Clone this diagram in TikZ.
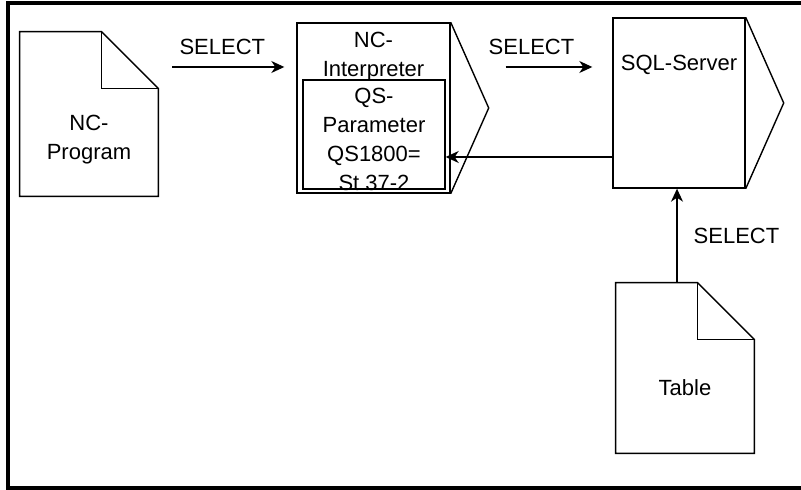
\documentclass[tikz,border=0pt]{standalone}
\usepackage{fontspec}
\setmainfont{Liberation Sans}
\usetikzlibrary{arrows.meta}

% outline of a document with a folded corner
\newcommand{\dogear}[1]{%
  \draw[docline] (#1.north west) -- ([xshift=-28.5pt]#1.north east)
    -- ([yshift=-28.5pt]#1.north east) -- (#1.south east)
    -- (#1.south west) -- cycle;
  \draw[docline] ([xshift=-28.5pt]#1.north east) |- ([yshift=-28.5pt]#1.north east);
}
% pointed right side of a process box
\newcommand{\boxtip}[1]{%
  \draw[docline] (#1.north east) -- ([xshift=19pt]#1.east) -- (#1.south east);
}

\begin{document}
\begin{tikzpicture}[
  x=0.5pt, y=-0.5pt,
  font=\fontsize{11}{14.6}\selectfont,
  docline/.style={draw,line width=0.7pt},
  docnode/.style={rectangle,draw=none,minimum width=69pt,minimum height=82pt,inner sep=0pt},
  procnode/.style={rectangle,docline,minimum height=85pt,inner sep=0pt},
  boxtext/.style={align=center,inner sep=0pt},
  edgelabel/.style={inner sep=2pt},
  flow/.style={line width=0.7pt,-{Stealth[length=6.5pt,width=6pt,inset=2pt]}}
]

\useasboundingbox (0,0) rectangle (801,490);

% Frame
\draw[line width=2pt] (812,3.5) -- (7.5,3.5) -- (7.5,488) -- (812,488);

% Documents
\node[docnode,label={[boxtext,yshift=-13pt]center:NC-\\Program}] (prog) at (89,114) {};
\dogear{prog}
\node[docnode,minimum height=85pt,label={[boxtext,yshift=-10pt]center:Table}] (table) at (685,368) {};
\dogear{table}

% Interpreter with its parameter
\node[procnode,minimum width=76.5pt,
  label={[boxtext,anchor=north,yshift=-4.5pt]north:NC-\\Interpreter}] (interp) at (373.5,108) {};
\boxtip{interp}
\node[procnode,minimum width=71pt,minimum height=54.5pt,
  label={[boxtext,yshift=-2.5pt]center:QS-\\Parameter\\QS1800=\\St 37-2}] (qs) at (374,134.5) {};

% Server
\node[procnode,minimum width=66pt,
  label={[boxtext,anchor=north,yshift=-18.5pt]north:SQL-Server}] (sql) at (679,103) {};
\boxtip{sql}

% Connectors
\coordinate (row) at (0,67);
\coordinate (back) at (0,157);
\coordinate (up) at (677,0);
\draw[flow,shorten <=7pt,shorten >=6pt] (prog.east |- row)
  -- node[edgelabel,above=4pt,xshift=-2.5pt] {SELECT} (interp.west |- row);
\draw[flow,shorten <=27.5pt,shorten >=10pt] (interp.east |- row)
  -- node[edgelabel,above=4pt] {SELECT} (sql.west |- row);
\draw[flow] (sql.west |- back) -- (qs.east |- back);
\draw[flow] (table.north -| up) -- node[edgelabel,right=6pt] {SELECT} (sql.south -| up);

\end{tikzpicture}
\end{document}
